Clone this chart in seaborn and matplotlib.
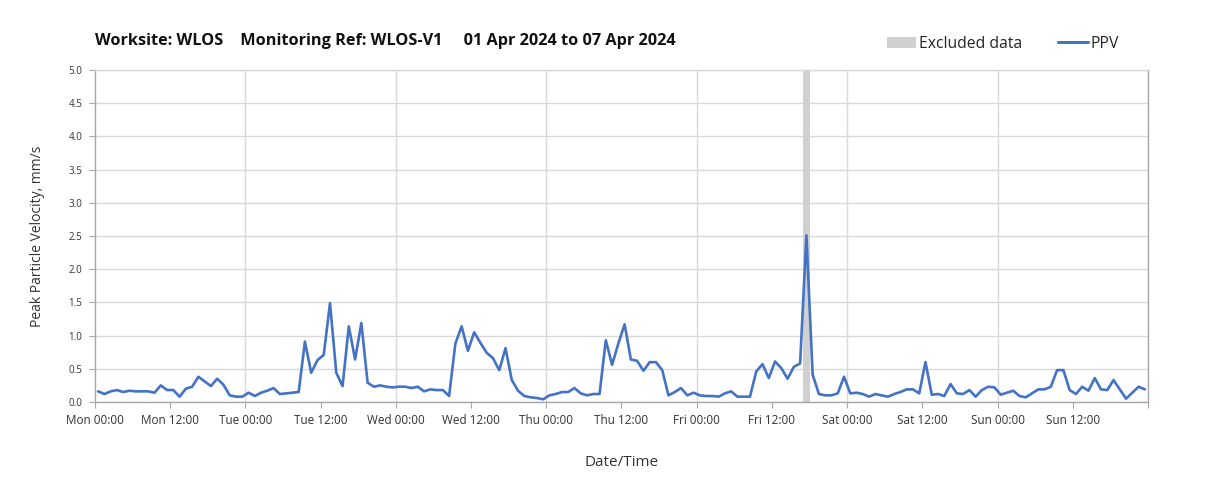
import numpy as np
import pandas as pd
import seaborn as sns
import matplotlib.pyplot as plt
from matplotlib.patches import Patch
from matplotlib.lines import Line2D

# hourly PPV values (mm/s), one list per day, Mon 01 Apr .. Sun 07 Apr 2024
mon = [0.16, 0.12, 0.16, 0.18, 0.15, 0.17, 0.16, 0.16, 0.16, 0.14, 0.25, 0.18,
       0.18, 0.08, 0.20, 0.23, 0.38, 0.31, 0.24, 0.35, 0.26, 0.10, 0.08, 0.08]
tue = [0.14, 0.09, 0.14, 0.17, 0.21, 0.12, 0.13, 0.14, 0.15, 0.91, 0.44, 0.63,
       0.71, 1.49, 0.44, 0.24, 1.14, 0.64, 1.19, 0.29, 0.23, 0.25, 0.23, 0.22]
wed = [0.23, 0.23, 0.21, 0.23, 0.16, 0.19, 0.18, 0.18, 0.09, 0.88, 1.14, 0.77,
       1.05, 0.89, 0.74, 0.66, 0.48, 0.81, 0.33, 0.17, 0.09, 0.07, 0.06, 0.04]
thu = [0.10, 0.12, 0.15, 0.15, 0.21, 0.13, 0.10, 0.12, 0.12, 0.93, 0.56, 0.88,
       1.17, 0.64, 0.62, 0.47, 0.60, 0.60, 0.48, 0.10, 0.15, 0.21, 0.10, 0.14]
fri = [0.10, 0.09, 0.09, 0.08, 0.13, 0.16, 0.08, 0.08, 0.08, 0.46, 0.57, 0.36,
       0.61, 0.51, 0.35, 0.53, 0.58, 2.51, 0.41, 0.12, 0.10, 0.10, 0.13, 0.38]
sat = [0.13, 0.14, 0.12, 0.08, 0.12, 0.10, 0.08, 0.12, 0.15, 0.19, 0.19, 0.13,
       0.60, 0.11, 0.12, 0.09, 0.27, 0.13, 0.12, 0.18, 0.08, 0.18, 0.23, 0.22]
sun = [0.11, 0.14, 0.17, 0.09, 0.07, 0.13, 0.19, 0.19, 0.23, 0.48, 0.48, 0.18,
       0.12, 0.23, 0.17, 0.36, 0.19, 0.18, 0.33, 0.19, 0.05, 0.14, 0.23, 0.19]

excluded_start = "2024-04-05 17:00"
excluded_end = "2024-04-05 18:00"

title = "Worksite: WLOS    Monitoring Ref: WLOS-V1     01 Apr 2024 to 07 Apr 2024"

ppv = mon + tue + wed + thu + fri + sat + sun
times = pd.date_range("2024-04-01 00:30", periods=len(ppv), freq="h")
df = pd.DataFrame({"time": times, "ppv": ppv})

sns.set_style("white")
plt.rcParams["font.family"] = ["Open Sans", "DejaVu Sans"]

line_color = "#4472C4"
grid_color = "#d9d9d9"
spine_color = "#a6a6a6"

fig = plt.figure(figsize=(12.05, 4.95), dpi=100)
ax = fig.add_axes([0.0788, 0.1879, 0.8739, 0.6707])

ax.axvspan(pd.Timestamp(excluded_start), pd.Timestamp(excluded_end),
           color="#d0d0d0", lw=0, zorder=1)
sns.lineplot(data=df, x="time", y="ppv", color=line_color, linewidth=1.9,
             ax=ax, zorder=3)

# daily vertical gridlines
for day in pd.date_range("2024-04-02", "2024-04-07", freq="D"):
    ax.axvline(day, color=grid_color, lw=1, zorder=0)

ax.set_xlim(pd.Timestamp("2024-04-01"), pd.Timestamp("2024-04-08"))
ax.set_ylim(0, 5)
ax.set_yticks(np.arange(0, 5.01, 0.5))
ax.yaxis.set_major_formatter(plt.FormatStrFormatter("%.1f"))
ax.grid(axis="y", color=grid_color, lw=1, zorder=0)

xt = pd.date_range("2024-04-01", "2024-04-08", freq="12h")
ax.set_xticks(xt)
ax.set_xticklabels([t.strftime("%a %H:%M") for t in xt[:-1]] + [""])

ax.tick_params(axis="x", labelsize=8.5, length=4, color=spine_color,
               bottom=True, pad=5, labelcolor="#333333")
ax.tick_params(axis="y", labelsize=7, length=4, color=spine_color,
               left=True, pad=5, labelcolor="#333333")
for s in ax.spines.values():
    s.set_color(spine_color)
    s.set_linewidth(1)
ax.spines["top"].set_color(grid_color)

ax.set_xlabel("Date/Time", fontsize=11, labelpad=20, color="#333333")
ax.set_ylabel("Peak Particle Velocity, mm/s", fontsize=10, labelpad=17,
              color="#333333")

fig.text(0.079, 0.918, title, fontsize=11.7, fontweight="bold", ha="left",
         va="center", color="#111111")

handles = [Patch(facecolor="#d0d0d0", edgecolor="none"),
           Line2D([0], [0], color=line_color, lw=2.2)]
fig.legend(handles, ["Excluded data", "PPV"], loc="center right",
           bbox_to_anchor=(0.94, 0.912), ncol=2, frameon=False, fontsize=11.3,
           handlelength=1.9, handletextpad=0.15, columnspacing=2.3)

fig.savefig("out.png", dpi=100)
